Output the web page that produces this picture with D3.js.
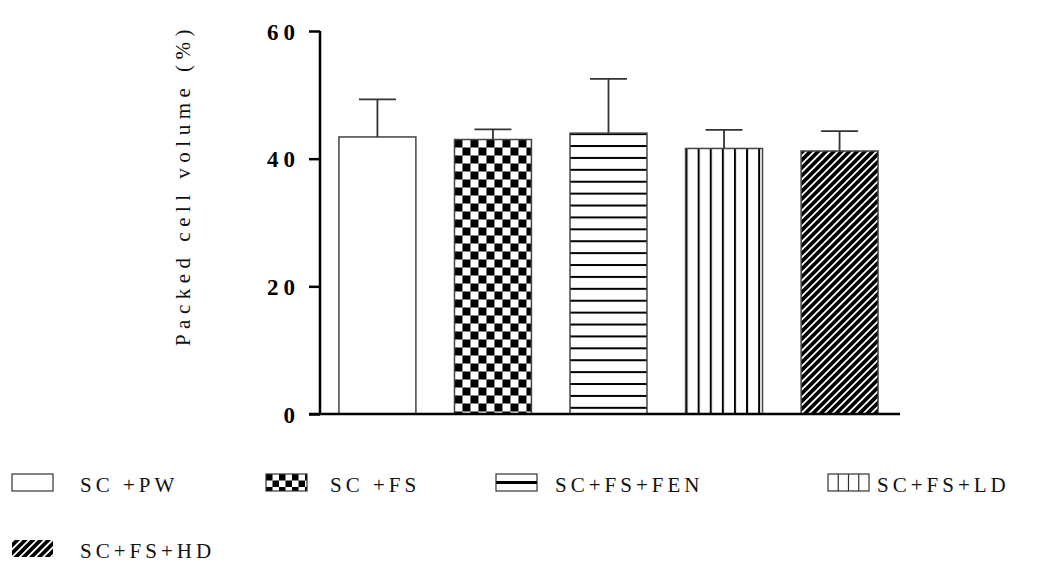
<!DOCTYPE html>
<html>
<head>
<meta charset="utf-8">
<script src="https://cdn.jsdelivr.net/npm/d3@7"></script>
<style>
  html, body { margin: 0; padding: 0; background: #fff; }
  svg { display: block; }
  text { font-family: "Liberation Serif", "Times New Roman", "DejaVu Serif", "Noto Serif", serif; }
</style>
</head>
<body>
<svg id="chart" width="1056" height="587"></svg>
<script>
// Packed cell volume per treatment group (mean with upper error bar)
const categories = ["SC +PW", "SC +FS", "SC+FS+FEN", "SC+FS+LD", "SC+FS+HD"];
const means = [43.4, 43.0, 44.0, 41.6, 41.2];
const errors = [5.9, 1.6, 8.5, 2.9, 3.1];
const yTicks = [0, 20, 40, 60];
const fills = ["blank", "checker", "hlines", "vlines", "diag"];

const svg = d3.select("#chart");
const defs = svg.append("defs");

// Fill patterns
function checker(id, size) {
  const p = defs.append("pattern").attr("id", id)
    .attr("patternUnits", "userSpaceOnUse")
    .attr("width", size * 2).attr("height", size * 2);
  p.append("rect").attr("width", size * 2).attr("height", size * 2).attr("fill", "#fff");
  p.append("rect").attr("width", size).attr("height", size).attr("fill", "#000");
  p.append("rect").attr("x", size).attr("y", size).attr("width", size).attr("height", size).attr("fill", "#000");
  return p;
}
function hlines(id, gap) {
  const p = defs.append("pattern").attr("id", id)
    .attr("patternUnits", "userSpaceOnUse").attr("width", 10).attr("height", gap);
  p.append("rect").attr("width", 10).attr("height", gap).attr("fill", "#fff");
  p.append("rect").attr("width", 10).attr("height", 2).attr("fill", "#000");
  return p;
}
function vlines(id, gap) {
  const p = defs.append("pattern").attr("id", id)
    .attr("patternUnits", "userSpaceOnUse").attr("width", gap).attr("height", 10);
  p.append("rect").attr("width", gap).attr("height", 10).attr("fill", "#fff");
  p.append("rect").attr("width", 2).attr("height", 10).attr("fill", "#000");
  return p;
}
function diag(id, period) {
  const p = defs.append("pattern").attr("id", id)
    .attr("patternUnits", "userSpaceOnUse").attr("width", period).attr("height", 10)
    .attr("patternTransform", "rotate(45)");
  p.append("rect").attr("width", period).attr("height", 10).attr("fill", "#000");
  p.append("rect").attr("width", 1.8).attr("height", 10).attr("fill", "#fff");
  return p;
}

const y = d3.scaleLinear().domain([0, 60]).range([414, 31]);
const x = d3.scaleBand().domain(categories).range([320, 897])
  .paddingInner(0.334).paddingOuter(0.164);

// patterns anchored to each bar's left/top edge
categories.forEach((c, i) => {
  const bx = x(c), by = y(means[i]);
  if (fills[i] === "checker") checker("pat" + i, 8).attr("x", bx).attr("y", by);
  if (fills[i] === "hlines") hlines("pat" + i, 11.9).attr("y", by);
  if (fills[i] === "vlines") vlines("pat" + i, 12.1).attr("x", bx);
  if (fills[i] === "diag") diag("pat" + i, 5.5);
});

// Legend layout
const legX = [12, 266, 496, 828, 12];
const legTextX = [80, 330, 555, 877, 80];
const legY = [474, 474, 474, 474, 540];
const boxW = 41, boxH = 17;

checker("legChecker", 6.5).attr("x", legX[1]).attr("y", legY[1]);
diag("legDiag", 5.5);

const fillOf = i => fills[i] === "blank" ? "#fff" : `url(#pat${i})`;

// Bars
svg.append("g").selectAll("rect").data(categories).join("rect")
  .attr("x", d => x(d))
  .attr("y", (d, i) => y(means[i]))
  .attr("width", x.bandwidth())
  .attr("height", (d, i) => y(0) - y(means[i]))
  .attr("fill", (d, i) => fillOf(i))
  .attr("stroke", "#444")
  .attr("stroke-width", 1.5);

// Upper error bars
const eb = svg.append("g").attr("stroke", "#333").attr("stroke-width", 1.8).attr("fill", "none");
categories.forEach((c, i) => {
  const cx = x(c) + x.bandwidth() / 2;
  const capHalf = x.bandwidth() * 0.24;
  eb.append("line").attr("x1", cx).attr("x2", cx)
    .attr("y1", y(means[i])).attr("y2", y(means[i] + errors[i]));
  eb.append("line").attr("x1", cx - capHalf).attr("x2", cx + capHalf)
    .attr("y1", y(means[i] + errors[i])).attr("y2", y(means[i] + errors[i]));
});

// Y axis
const yAxis = d3.axisLeft(y).tickValues(yTicks).tickSize(11).tickPadding(9)
  .tickFormat(d3.format("d"));
const ga = svg.append("g").attr("transform", "translate(320,0)").call(yAxis);
ga.attr("font-family", null).attr("font-size", null);
ga.select(".domain").attr("stroke", "#000").attr("stroke-width", 2.5)
  .attr("d", `M0,${y(60)}V${y(0)}`);
ga.selectAll(".tick line").attr("stroke", "#000").attr("stroke-width", 2.5);
ga.selectAll(".tick text")
  .style("font-size", "23px").style("font-weight", "bold")
  .attr("letter-spacing", 5).attr("fill", "#000")
  .attr("dy", "0.36em");

// X baseline
svg.append("line").attr("x1", 309).attr("x2", 900)
  .attr("y1", y(0)).attr("y2", y(0))
  .attr("stroke", "#000").attr("stroke-width", 2.5);

// Y axis title
svg.append("text")
  .attr("transform", `translate(190,185) rotate(-90)`)
  .attr("text-anchor", "middle")
  .style("font-size", "21px").attr("letter-spacing", 5.5).attr("fill", "#111")
  .text("Packed cell volume (%)");

// Legend
const lg = svg.append("g");
categories.forEach((c, i) => {
  const g = lg.append("g");
  const bx = legX[i], by = legY[i];
  const f = fills[i] === "checker" ? "url(#legChecker)"
          : fills[i] === "diag" ? "url(#legDiag)" : "#fff";
  g.append("rect").attr("x", bx).attr("y", by).attr("width", boxW).attr("height", boxH)
    .attr("fill", f).attr("stroke", fills[i] === "diag" ? "none" : "#333").attr("stroke-width", 1.2);
  if (fills[i] === "hlines") {
    g.append("rect").attr("x", bx).attr("y", by + boxH / 2 - 1.5).attr("width", boxW).attr("height", 3).attr("fill", "#000");
  }
  if (fills[i] === "vlines") {
    [1, 2, 3].forEach(k => g.append("line")
      .attr("x1", bx + k * boxW / 4).attr("x2", bx + k * boxW / 4)
      .attr("y1", by).attr("y2", by + boxH).attr("stroke", "#333").attr("stroke-width", 1.2));
  }
  g.append("text").attr("x", legTextX[i]).attr("y", by + boxH + 1)
    .style("font-size", "21px").attr("letter-spacing", 4).attr("fill", "#111")
    .text(c);
});
</script>
</body>
</html>
